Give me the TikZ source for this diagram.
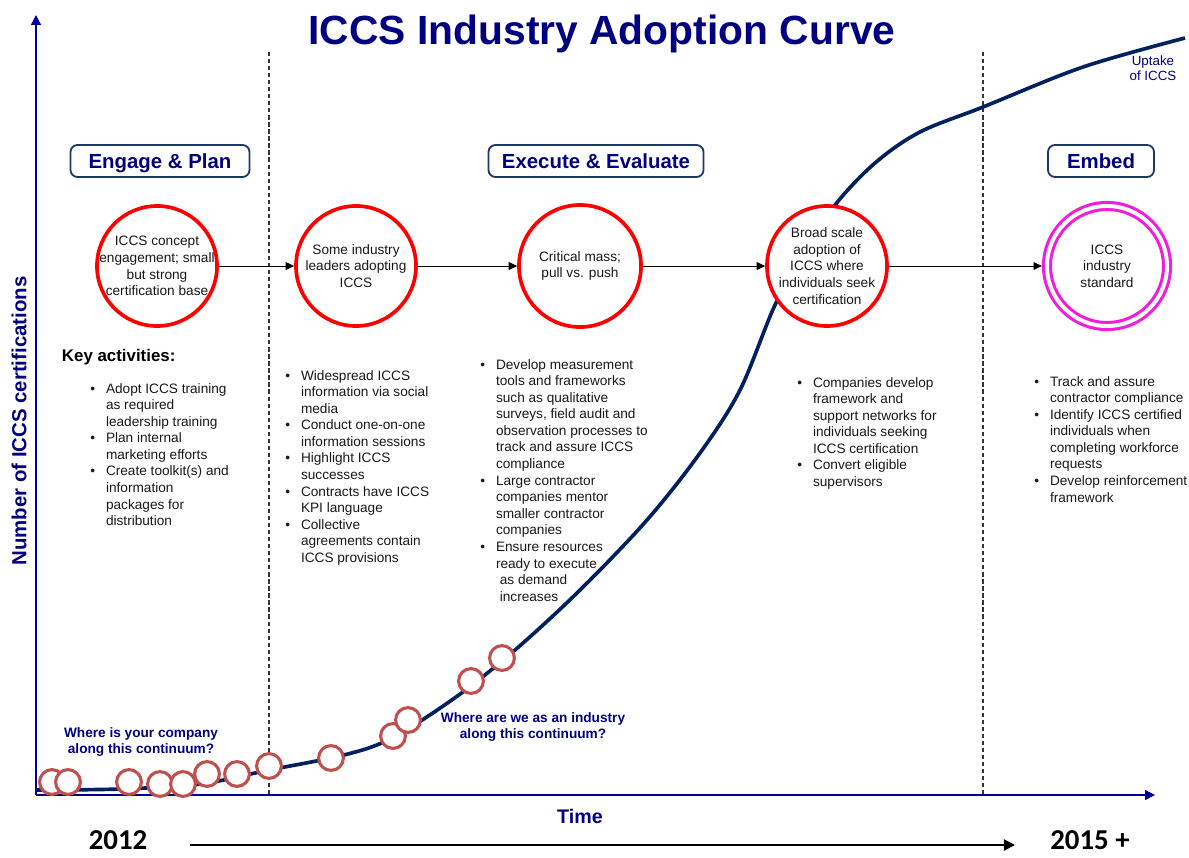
\documentclass[tikz,border=0pt]{standalone}
\usepackage{fontspec}
\setmainfont{Liberation Sans}
\newfontfamily\yearfont{Carlito}
\usetikzlibrary{arrows.meta}
\definecolor{titleblue}{RGB}{0,0,128}
\definecolor{curveblue}{RGB}{0,32,96}
\definecolor{boxblue}{RGB}{31,56,100}
\definecolor{axisblue}{RGB}{0,0,150}
\definecolor{markred}{RGB}{192,80,77}
\definecolor{ringpink}{RGB}{240,30,220}
\definecolor{txtgray}{RGB}{25,25,25}

\begin{document}
\begin{tikzpicture}[x=0.025cm, y=-0.025cm,
	stage/.style={circle, draw=red, line width=2.6pt, fill=white, minimum size=3cm, inner sep=0pt},
	intext/.style={align=center, font=\fontsize{9.7}{11.8}\selectfont, text=txtgray},
	phase/.style={draw=boxblue, line width=1.3pt, rounded corners=5pt, text=titleblue, font=\fontsize{14.5}{17}\selectfont\bfseries, minimum height=0.8cm, text depth=0pt},
	flow/.style={-{Triangle[length=6pt,width=5.5pt]}, line width=0.6pt},
	axis/.style={draw=axisblue, line width=1pt, -{Triangle[length=7pt,width=7pt]}},
	divider/.style={draw=black!80, line width=0.8pt, dash pattern=on 3pt off 2pt},
	curve/.style={draw=curveblue, line width=2.6pt},
	posmark/.style={circle, draw=markred, line width=2.2pt, fill=white, minimum size=0.62cm, inner sep=0pt},
	bullets/.style={anchor=base west, inner sep=0pt, font=\fontsize{9.7}{11.8}\selectfont, text=txtgray},
	question/.style={align=center, text=titleblue, font=\fontsize{9.7}{12}\selectfont\bfseries},
	year/.style={inner sep=0pt, font=\yearfont\fontsize{20.5}{23}\selectfont\bfseries}
	]
	\useasboundingbox (0,0) rectangle (1189,857);

	% title and axes
	\node[anchor=base, text=titleblue, font=\fontsize{29}{34}\selectfont\bfseries] (title) at (602,44) {ICCS Industry Adoption Curve};
	\coordinate (o) at (36,795);
	\coordinate (ytop) at (36,15);
	\coordinate (xend) at (1155,795);
	\draw[axis] (o) -- (ytop);
	\draw[axis] (o) -- (xend);
	\node[rotate=90, text=titleblue, font=\fontsize{14.5}{17}\selectfont\bfseries] (ylab) at (19,421) {Number of ICCS certifications};
	\node[text=titleblue, font=\fontsize{14}{17}\selectfont\bfseries] (tlab) at (580,816) {Time};

	% phase dividers
	\coordinate (d1t) at (269,52);
	\coordinate (d1b) at (269,795);
	\coordinate (d2t) at (983,52);
	\coordinate (d2b) at (983,795);
	\draw[divider] (d1t) -- (d1b);
	\draw[divider] (d2t) -- (d2b);

	% uptake curve
	\draw[curve] plot[smooth, tension=0.55] coordinates {(36,790) (120,789) (200,784) (269,770) (344,755) (392,738) (456,697) (515,650) (580,590) (647,520) (700,453) (740,390) (775,305) (805,252) (835,205) (875,163) (920,132) (983,107) (1083,67) (1185,38)};
	\node[align=center, text=titleblue, font=\fontsize{9.5}{10.8}\selectfont] (uptake) at (1153,68) {Uptake\\of ICCS};

	% phases
	\node[phase, minimum width=4.475cm] (p1) at (160,161) {Engage \& Plan};
	\node[phase, minimum width=5.375cm] (p2) at (596,161) {Execute \& Evaluate};
	\node[phase, minimum width=2.65cm] (p3) at (1101,161) {Embed};

	% stages
	\node[stage, label={[intext]center:{ICCS concept\\engagement; small\\but strong\\certification base}}] (c1) at (157,266) {};
	\node[stage, label={[intext]center:{Some industry\\leaders adopting\\ICCS}}] (c2) at (356,266) {};
	\node[stage, minimum size=3.05cm, label={[intext]center:{Critical mass;\\pull vs. push}}] (c3) at (580,266) {};
	\node[stage, label={[intext]center:{Broad scale\\adoption of\\ICCS where\\individuals seek\\certification}}] (c4) at (827,266) {};
	\node[stage, draw=ringpink, line width=2.2pt, double=white, double distance=2.8pt, outer sep=3.6pt, label={[intext]center:{ICCS\\industry\\standard}}] (c5) at (1107,266) {};
	\draw[flow] (c1) -- (c2);
	\draw[flow] (c2) -- (c3);
	\draw[flow] (c3) -- (c4);
	\draw[flow] (c4) -- (c5);

	% activities
	\node[anchor=base west, text=black, font=\fontsize{12}{14}\selectfont\bfseries] (key) at (57,361) {Key activities:};
	\node[bullets] (b1) at (90,393) {\begin{tabular}[t]{@{}l@{\hspace{7.8pt}}l@{}}
		\textbullet & Adopt ICCS training\\
		 & as required\\
		 & leadership training\\
		\textbullet & Plan internal\\
		 & marketing efforts\\
		\textbullet & Create toolkit(s) and\\
		 & information\\
		 & packages for\\
		 & distribution
	\end{tabular}};
	\node[bullets] (b2) at (285,380) {\begin{tabular}[t]{@{}l@{\hspace{7.8pt}}l@{}}
		\textbullet & Widespread ICCS\\
		 & information via social\\
		 & media\\
		\textbullet & Conduct one-on-one\\
		 & information sessions\\
		\textbullet & Highlight ICCS\\
		 & successes\\
		\textbullet & Contracts have ICCS\\
		 & KPI language\\
		\textbullet & Collective\\
		 & agreements contain\\
		 & ICCS provisions
	\end{tabular}};
	\node[bullets] (b3) at (480,369) {\begin{tabular}[t]{@{}l@{\hspace{7.8pt}}l@{}}
		\textbullet & Develop measurement\\
		 & tools and frameworks\\
		 & such as qualitative\\
		 & surveys, field audit and\\
		 & observation processes to\\
		 & track and assure ICCS\\
		 & compliance\\
		\textbullet & Large contractor\\
		 & companies mentor\\
		 & smaller contractor\\
		 & companies\\
		\textbullet & Ensure resources\\
		 & ready to execute\\
		 & \ as demand\\
		 & \ increases
	\end{tabular}};
	\node[bullets] (b4) at (797,387) {\begin{tabular}[t]{@{}l@{\hspace{7.8pt}}l@{}}
		\textbullet & Companies develop\\
		 & framework and\\
		 & support networks for\\
		 & individuals seeking\\
		 & ICCS certification\\
		\textbullet & Convert eligible\\
		 & supervisors
	\end{tabular}};
	\node[bullets] (b5) at (1034,386) {\begin{tabular}[t]{@{}l@{\hspace{7.8pt}}l@{}}
		\textbullet & Track and assure\\
		 & contractor compliance\\
		\textbullet & Identify ICCS certified\\
		 & individuals when\\
		 & completing workforce\\
		 & requests\\
		\textbullet & Develop reinforcement\\
		 & framework
	\end{tabular}};

	% positions along the curve
	\foreach \px/\py [count=\i] in {52/782, 68/782, 129/782, 160/784, 183/784, 207/774, 237/774, 269/766, 331/758, 393/736, 408/720, 471/681, 502/658}
		\node[posmark] (m\i) at (\px,\py) {};
	\node[question] (q1) at (141,742) {Where is your company\\along this continuum?};
	\node[question] (q2) at (533,727) {Where are we as an industry\\along this continuum?};

	% years
	\node[year] (y0) at (118,840) {2012};
	\node[year] (y1) at (1090,840) {2015 +};
	\coordinate (ts) at (190,845);
	\coordinate (te) at (1015,845);
	\draw[line width=1.4pt, -{Triangle[length=8pt,width=8pt]}] (ts) -- (te);
\end{tikzpicture}
\end{document}
